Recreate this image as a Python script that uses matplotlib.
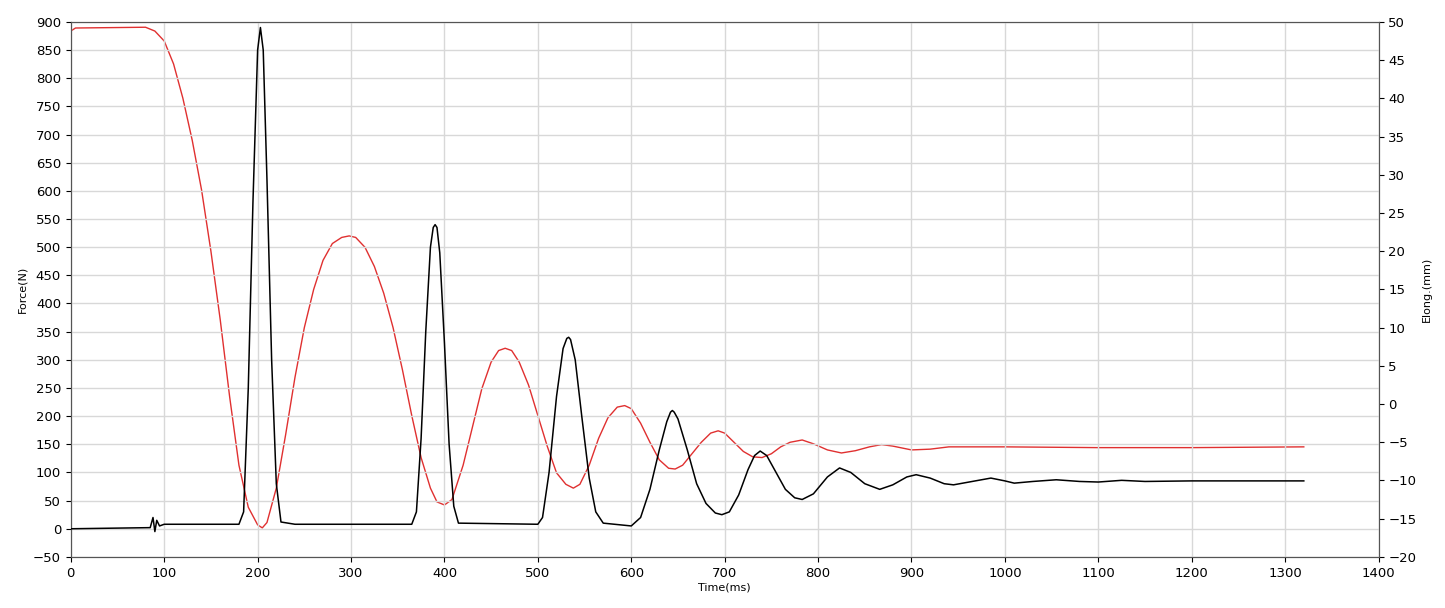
import matplotlib
matplotlib.use("Agg")
import matplotlib.pyplot as plt

force_t = [0,85,88,90,92,95,100,180,185,190,195,200,203,206,210,215,220,225,240,365,370,375,380,385,388,390,392,395,400,405,410,415,500,505,512,520,527,531,533,535,540,547,555,562,570,600,610,620,630,638,642,644,646,650,660,670,680,690,697,705,715,725,732,738,745,755,765,775,783,795,810,823,835,850,866,880,895,905,920,935,945,965,985,1000,1010,1030,1055,1080,1100,1125,1150,1200,1320]
force_v = [0,2,20,-5,15,5,8,8,30,250,580,850,890,850,620,300,80,12,8,8,30,160,350,500,535,540,535,490,330,150,40,10,8,20,100,235,320,338,340,336,300,200,90,30,10,5,20,70,140,190,207,210,207,195,140,80,45,28,25,30,60,105,130,138,130,100,70,55,52,62,92,108,100,80,70,78,92,96,90,80,78,84,90,85,81,84,87,84,83,86,84,85,85]

elong_t = [0,5,80,90,100,110,120,130,140,150,160,170,180,190,200,205,210,220,230,240,250,260,270,280,290,298,305,315,325,335,345,355,365,375,385,392,400,408,420,430,440,450,458,465,472,480,490,500,510,520,530,538,545,555,565,575,585,593,600,610,620,630,640,647,655,665,675,685,693,700,710,720,730,740,750,760,770,783,795,810,825,840,855,868,880,900,920,940,960,1000,1100,1200,1320]
elong_v = [48.8,49.2,49.3,48.8,47.5,44.5,40,34.5,28,20,11,1,-8,-13.5,-15.8,-16.2,-15.5,-11,-4,3.5,10,15,18.8,21,21.8,22,21.8,20.5,18,14.5,10,4.5,-1.5,-7,-11,-12.8,-13.2,-12.5,-8,-3,2,5.5,7,7.3,7,5.5,2.5,-1.5,-5.5,-9,-10.5,-11,-10.5,-8,-4.5,-1.8,-0.4,-0.2,-0.6,-2.5,-5,-7.3,-8.4,-8.5,-8,-6.5,-5,-3.8,-3.5,-3.8,-5,-6.2,-6.9,-7,-6.5,-5.6,-5,-4.7,-5.2,-6,-6.4,-6.1,-5.6,-5.3,-5.5,-6,-5.9,-5.6,-5.6,-5.6,-5.7,-5.7,-5.6]

fig = plt.figure(figsize=(14.45, 6.08), dpi=100)
ax = fig.add_axes([0.049, 0.084, 0.905, 0.88])
ax2 = ax.twinx()
ax.plot(force_t, force_v, color="black", lw=1.1, zorder=3)
ax2.plot(elong_t, elong_v, color="#e03030", lw=1.0)
ax.set_zorder(ax2.get_zorder() + 1)
ax.patch.set_visible(False)
ax.set_xlim(0, 1400)
ax.set_ylim(-50, 900)
ax2.set_ylim(-20, 50)
ax.set_xticks(range(0, 1401, 100))
ax.set_yticks(range(-50, 901, 50))
ax2.set_yticks(range(-20, 51, 5))
ax.grid(True, color="#d8d8d8", lw=1)
ax.tick_params(labelsize=9.5)
ax2.tick_params(labelsize=9.5)
ax.set_xlabel("Time(ms)", fontsize=8, labelpad=2)
ax.set_ylabel("Force(N)", fontsize=8)
ax2.set_ylabel("Elong.(mm)", fontsize=8)
for a in (ax, ax2):
    for s in a.spines.values():
        s.set_color("#555555")
fig.savefig("out.png", dpi=100)
